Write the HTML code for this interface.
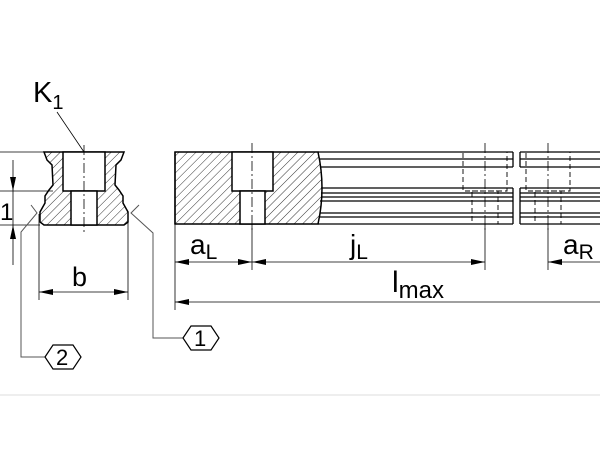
<!DOCTYPE html>
<html><head><style>body{margin:0;background:#fff}svg{display:block}text{font-family:"Liberation Sans",sans-serif;fill:#000}</style></head><body>
<svg width="600" height="450" viewBox="0 0 600 450" xmlns="http://www.w3.org/2000/svg">
<defs>
<pattern id="h" width="6" height="6" patternUnits="userSpaceOnUse" patternTransform="rotate(45)"><line x1="0" y1="0" x2="0" y2="6" stroke="#000" stroke-width="0.8"/></pattern>
<marker id="a" markerWidth="14" markerHeight="6" refX="14" refY="3" orient="auto-start-reverse" markerUnits="userSpaceOnUse"><path d="M0,0 L14,3 L0,6z" fill="#000"/></marker>
</defs>
<g stroke="#000" fill="none">
<path d="M44,152 L124,152 L121,160 L116,165 L115,185 L119,190 L123,196 L123,203 L128,212 L128,222 L124,225 L44,225 L40,222 L40,212 L45,203 L45,196 L49,190 L53,185 L52,165 L47,160 Z" fill="url(#h)" stroke-width="1.5"/>
<rect x="63" y="152" width="42" height="39" fill="#fff" stroke-width="1.5"/>
<rect x="71" y="191" width="26" height="34" fill="#fff" stroke-width="1.5"/>
<line x1="84" y1="145" x2="84" y2="232" stroke-width="0.8" stroke-dasharray="10,3,2,3"/>
<line x1="57" y1="112" x2="84" y2="152" stroke-width="0.8"/>
<line x1="0" y1="152" x2="44" y2="152" stroke-width="0.8"/>
<line x1="0" y1="191" x2="53" y2="191" stroke-width="0.8"/>
<line x1="0" y1="225" x2="40" y2="225" stroke-width="0.8"/>
<line x1="13" y1="160" x2="13" y2="191" stroke-width="0.8" marker-end="url(#a)"/>
<line x1="13" y1="191" x2="13" y2="225" stroke-width="0.8"/>
<line x1="13" y1="265" x2="13" y2="225" stroke-width="0.8" marker-end="url(#a)"/>
<line x1="39" y1="214" x2="39" y2="300" stroke-width="0.8"/>
<line x1="128" y1="214" x2="128" y2="300" stroke-width="0.8"/>
<line x1="39" y1="292" x2="128" y2="292" stroke-width="0.8" marker-start="url(#a)" marker-end="url(#a)"/>
<path d="M31,205 L37,213 L21,232 L21,357 L45,357" stroke="#555" stroke-width="1"/>
<path d="M139,205 L131,213 L153,233 L153,338 L183,338" stroke="#555" stroke-width="1"/>
<path d="M45,357 L53,345 L73,345 L81,357 L73,369 L53,369 Z" stroke-width="1.2" fill="#fff"/>
<path d="M183,338 L191,326 L211,326 L219,338 L211,350 L191,350 Z" stroke-width="1.2" fill="#fff"/>
<path d="M175,152 L318,152 Q326,188 318,224 L175,224 Z" fill="url(#h)" stroke-width="1.5"/>
<rect x="232" y="152" width="41" height="39" fill="#fff" stroke-width="1.5"/>
<rect x="240" y="191" width="25" height="33" fill="#fff" stroke-width="1.5"/>
<g stroke-width="1.3">
<line x1="318" y1="152" x2="513" y2="152"/><line x1="520" y1="152" x2="600" y2="152"/>
<line x1="320" y1="159" x2="513" y2="159"/><line x1="520" y1="159" x2="600" y2="159"/>
<line x1="321" y1="167" x2="513" y2="167"/><line x1="520" y1="167" x2="600" y2="167"/>
<line x1="321" y1="188" x2="513" y2="188"/><line x1="520" y1="188" x2="600" y2="188"/>
<line x1="321" y1="193" x2="513" y2="193"/><line x1="520" y1="193" x2="600" y2="193"/>
<line x1="321" y1="197" x2="513" y2="197"/><line x1="520" y1="197" x2="600" y2="197"/>
<line x1="320" y1="201" x2="513" y2="201"/><line x1="520" y1="201" x2="600" y2="201"/>
<line x1="320" y1="213" x2="513" y2="213"/><line x1="520" y1="213" x2="600" y2="213"/>
<line x1="319" y1="217" x2="513" y2="217"/><line x1="520" y1="217" x2="600" y2="217"/>
<line x1="318" y1="224" x2="513" y2="224"/><line x1="520" y1="224" x2="600" y2="224"/>
<line x1="175" y1="152" x2="175" y2="224"/>
<line x1="513" y1="152" x2="513" y2="167"/><line x1="513" y1="188" x2="513" y2="224"/>
<line x1="520" y1="152" x2="520" y2="167"/><line x1="520" y1="188" x2="520" y2="224"/>
</g>
<g stroke-width="0.9" stroke-dasharray="5,3">
<rect x="463" y="152" width="44" height="39"/><rect x="472" y="191" width="26" height="33"/>
<rect x="526" y="152" width="44" height="39"/><rect x="535" y="191" width="26" height="33"/>
</g>
<g stroke-width="0.8" stroke-dasharray="10,3,2,3">
<line x1="252" y1="143" x2="252" y2="230"/>
<line x1="485" y1="143" x2="485" y2="230"/>
<line x1="548" y1="143" x2="548" y2="230"/>
</g>
<g stroke-width="0.8">
<line x1="175" y1="224" x2="175" y2="310"/>
<line x1="252" y1="224" x2="252" y2="270"/>
<line x1="485" y1="224" x2="485" y2="270"/>
<line x1="548" y1="224" x2="548" y2="270"/>
<line x1="175" y1="262" x2="252" y2="262" marker-start="url(#a)" marker-end="url(#a)"/>
<line x1="252" y1="262" x2="485" y2="262" marker-start="url(#a)" marker-end="url(#a)"/>
<line x1="600" y1="262" x2="548" y2="262" marker-end="url(#a)"/>
<line x1="600" y1="302" x2="175" y2="302" marker-end="url(#a)"/>
</g>
<line x1="0" y1="395" x2="600" y2="395" stroke="#ddd" stroke-width="1"/>
</g>
<text x="33" y="102" font-size="29">K<tspan font-size="20" dy="7">1</tspan></text>
<text x="0" y="220" font-size="24">1</text>
<text x="72" y="286" font-size="27">b</text>
<text x="190" y="254" font-size="28">a<tspan font-size="21" dy="5">L</tspan></text>
<text x="350" y="254" font-size="28">j<tspan font-size="21" dy="5">L</tspan></text>
<text x="563" y="254" font-size="28">a<tspan font-size="21" dy="5">R</tspan></text>
<text x="392" y="292" font-size="30">l<tspan font-size="24" dy="6">max</tspan></text>
<text x="56" y="365" font-size="22">2</text>
<text x="194" y="346" font-size="22">1</text>
</svg>
</body></html>
